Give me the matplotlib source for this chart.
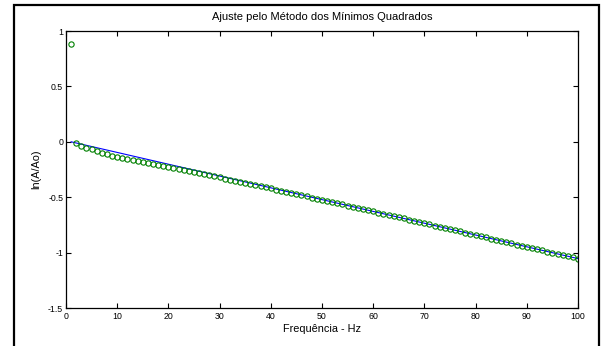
import matplotlib
matplotlib.use('Agg')
import matplotlib.pyplot as plt
from matplotlib.patches import Rectangle

# frequencias (Hz) e ln(A/Ao) medidos
freq = list(range(1, 101))
ln_ratio = [0.880, -0.014, -0.035, -0.053, -0.068, -0.083, -0.098, -0.110, -0.125, -0.137,
            -0.149, -0.158, -0.167, -0.176, -0.182, -0.190, -0.200, -0.210, -0.218, -0.227,
            -0.236, -0.245, -0.254, -0.264, -0.274, -0.283, -0.293, -0.303, -0.312, -0.322,
            -0.332, -0.341, -0.351, -0.360, -0.370, -0.381, -0.390, -0.401, -0.411, -0.421,
            -0.431, -0.442, -0.452, -0.462, -0.473, -0.482, -0.493, -0.503, -0.513, -0.524,
            -0.534, -0.544, -0.555, -0.565, -0.576, -0.586, -0.596, -0.607, -0.618, -0.628,
            -0.639, -0.650, -0.660, -0.671, -0.682, -0.692, -0.703, -0.714, -0.724, -0.735,
            -0.746, -0.756, -0.767, -0.777, -0.788, -0.799, -0.809, -0.820, -0.831, -0.841,
            -0.852, -0.863, -0.873, -0.884, -0.895, -0.905, -0.916, -0.927, -0.937, -0.948,
            -0.959, -0.969, -0.980, -0.991, -1.001, -1.012, -1.022, -1.033, -1.044, -1.054]

# reta ajustada (minimos quadrados)
fit_x = [1, 100]
fit_y = [0.0, -1.054]

xticks = [0, 10, 20, 30, 40, 50, 60, 70, 80, 90, 100]
yticks = [-1.5, -1, -0.5, 0, 0.5, 1]
ytick_labels = ['-1.5', '-1', '-0.5', '0', '0.5', '1']

plt.rcParams['font.family'] = ['Liberation Sans', 'DejaVu Sans']

fig = plt.figure(figsize=(6.02, 3.46), dpi=100)
ax = fig.add_axes([0.1096, 0.1098, 0.8505, 0.8006])

ax.plot(fit_x, fit_y, color='#0000ff', linewidth=0.8)
ax.plot(freq, ln_ratio, linestyle='none', marker='o', markersize=3.8,
        markerfacecolor='none', markeredgecolor='#008000', markeredgewidth=0.8)

ax.set_xlim(0, 100)
ax.set_ylim(-1.5, 1)
ax.set_xticks(xticks)
ax.set_yticks(yticks)
ax.set_yticklabels(ytick_labels)
ax.tick_params(direction='in', length=3.5, width=0.8, top=True, right=True,
               labelsize=6.3)
ax.tick_params(axis='x', pad=3)
ax.tick_params(axis='y', pad=2)
for sp in ax.spines.values():
    sp.set_linewidth(0.9)

ax.set_xlabel('Frequência - Hz', fontsize=7.8)
ax.set_ylabel('ln(A/Ao)', fontsize=7.8)
ax.xaxis.set_label_coords(0.5, -0.058)
ax.yaxis.set_label_coords(-0.048, 0.5)
fig.text(0.535, 0.951, 'Ajuste pelo Método dos Mínimos Quadrados',
         ha='center', va='center', fontsize=8)

# moldura externa
fig.patches.append(Rectangle((0.0233, -0.1), 0.9717, 1.0855, transform=fig.transFigure,
                             fill=False, edgecolor='black', linewidth=1.6))

plt.savefig('out.png', dpi=100)
